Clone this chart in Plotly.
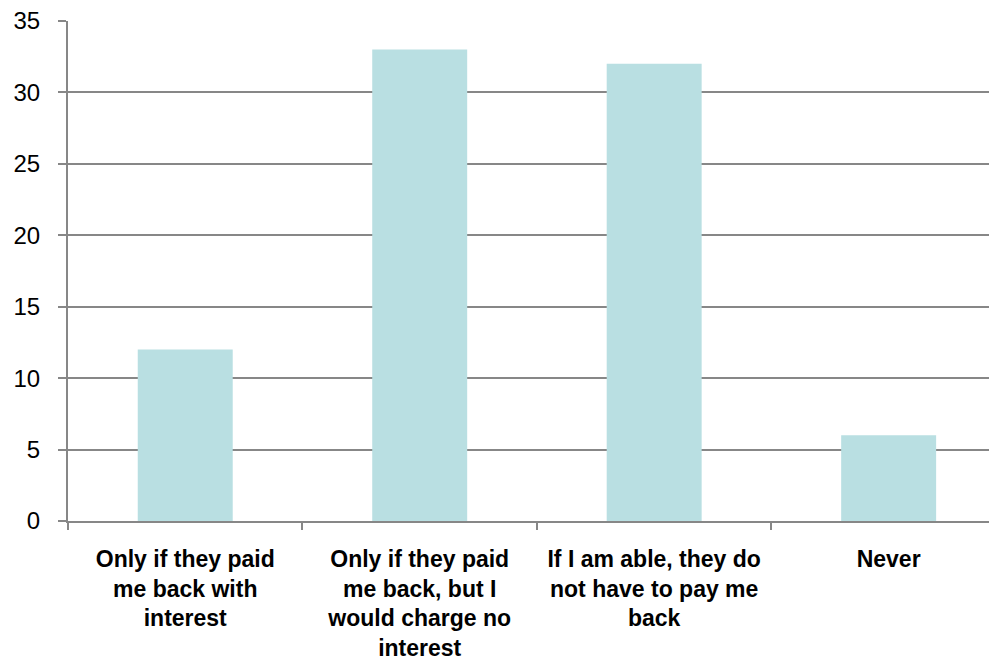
import plotly.graph_objects as go

categories = [
    "Only if they paid<br>me back with<br>interest",
    "Only if they paid<br>me back, but I<br>would charge no<br>interest",
    "If I am able, they do<br>not have to pay me<br>back",
    "Never",
]
values = [12, 33, 32, 6]
y_ticks = [0, 5, 10, 15, 20, 25, 30, 35]

grid_gray = "#878787"

fig = go.Figure(
    go.Bar(
        x=categories,
        y=values,
        marker=dict(color="#B9DFE2", line=dict(width=0)),
        width=0.405,
    )
)

fig.update_layout(
    width=989,
    height=663,
    margin=dict(l=68, r=0, t=21, b=142),
    paper_bgcolor="white",
    plot_bgcolor="white",
    showlegend=False,
)

fig.update_xaxes(
    type="category",
    range=[-0.5, 3.428],
    automargin=False,
    showgrid=False,
    showline=True,
    linecolor=grid_gray,
    linewidth=2,
    ticks="outside",
    tickson="boundaries",
    ticklen=7,
    tickwidth=2,
    tickcolor=grid_gray,
    tickangle=0,
    tickfont=dict(family="Liberation Sans, Arial, sans-serif", size=23, color="black", weight="bold"),
    ticklabelstandoff=16,
)

fig.update_yaxes(
    range=[0, 35],
    tickvals=y_ticks,
    automargin=False,
    showgrid=True,
    gridcolor=grid_gray,
    gridwidth=2,
    showline=True,
    linecolor=grid_gray,
    linewidth=2,
    zeroline=False,
    ticks="outside",
    ticklen=8,
    tickwidth=2,
    tickcolor=grid_gray,
    tickfont=dict(family="Liberation Sans, Arial, sans-serif", size=24, color="black"),
    ticklabelstandoff=13,
)

fig.write_html("out.html")
